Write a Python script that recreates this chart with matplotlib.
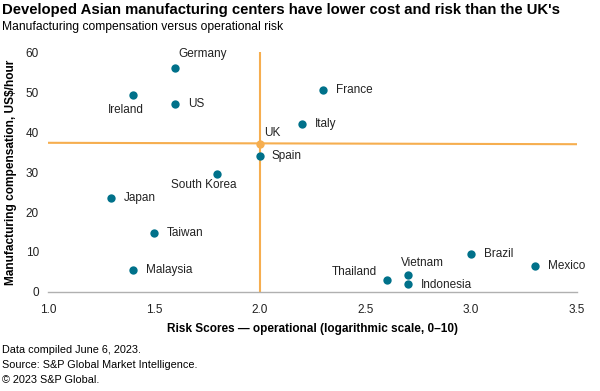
import matplotlib.pyplot as plt

plt.rcParams['font.family'] = ['Liberation Sans', 'DejaVu Sans']

# data
countries = ["Germany", "Ireland", "US", "Spain", "South Korea", "Japan", "Taiwan",
             "Malaysia", "Italy", "France", "Brazil", "Mexico", "Thailand", "Vietnam",
             "Indonesia"]
risk = [1.6, 1.4, 1.6, 2.0, 1.8, 1.3, 1.5, 1.4, 2.2, 2.3, 3.0, 3.3, 2.6, 2.7, 2.7]
comp = [56.0, 49.3, 47.0, 34.0, 29.6, 23.4, 14.7, 5.5, 41.9, 50.4, 9.6, 6.4, 2.9, 4.3, 2.0]

uk_risk = 2.0
uk_comp = 37.0

# reference lines through the UK
hline_x = [1.0, 3.5]
hline_y = [37.3, 36.95]
vline_x = [2.0, 2.0]
vline_y = [0.0, 59.8]

# label offsets in pixels (dx, dy, ha)
label_pos = {
    "Germany": (3, 14, "left"),
    "Ireland": (-7, -15, "center"),
    "US": (13, 0, "left"),
    "Spain": (12, 0, "left"),
    "South Korea": (-14, -11, "center"),
    "Japan": (12, 0, "left"),
    "Taiwan": (13, 0, "left"),
    "Malaysia": (13, 0, "left"),
    "Italy": (13, 0, "left"),
    "France": (13, 0, "left"),
    "Brazil": (13, 0, "left"),
    "Mexico": (13, 0, "left"),
    "Thailand": (-10, 8, "right"),
    "Vietnam": (15, 12, "center"),
    "Indonesia": (13, -1, "left"),
}

teal = "#00718a"
orange = "#f6ae4f"

fig = plt.figure(figsize=(6.0, 3.91), dpi=100)
ax = fig.add_axes([0.08, 0.2532, 0.8817, 0.6138])

ax.plot(hline_x, hline_y, color=orange, lw=1.5, zorder=1)
ax.plot(vline_x, vline_y, color=orange, lw=1.5, zorder=1)
ax.scatter(risk, comp, s=36, color=teal, zorder=3, linewidths=0)
ax.scatter([uk_risk], [uk_comp], s=36, color=orange, zorder=3, linewidths=0)

for name, x, y in zip(countries, risk, comp):
    dx, dy, ha = label_pos[name]
    ax.annotate(name, (x, y), xytext=(dx, dy), textcoords="offset pixels",
                ha=ha, va="center", fontsize=8.5, color="#222222")
ax.annotate("UK", (uk_risk, uk_comp), xytext=(5, 11), textcoords="offset pixels",
            ha="left", va="center", fontsize=8.5, color="#222222")

ax.set_xlim(1.0, 3.5)
ax.set_ylim(0, 60)
ax.set_xticks([1.0, 1.5, 2.0, 2.5, 3.0, 3.5])
ax.set_xticklabels(["1.0", "1.5", "2.0", "2.5", "3.0", "3.5"])
ax.set_yticks([0, 10, 20, 30, 40, 50, 60])
ax.tick_params(length=0, labelsize=8.5, colors="#222222")
ax.tick_params(axis="x", pad=9)
ax.tick_params(axis="y", pad=6.5)
for side in ["top", "right", "left"]:
    ax.spines[side].set_visible(False)
ax.spines["bottom"].set_color("#b0b0b0")
ax.spines["bottom"].set_linewidth(1)

ax.set_xlabel("Risk Scores \u2014 operational (logarithmic scale, 0\u201310)",
              fontsize=8.5, fontweight="bold", labelpad=5)
ax.set_ylabel("Manufacturing compensation, US$/hour", fontsize=8.6,
              fontweight="bold", labelpad=6)

fig.text(0.004, 0.975, "Developed Asian manufacturing centers have lower cost and risk than the UK's",
         fontsize=10.7, fontweight="bold", va="center", ha="left")
fig.text(0.004, 0.93, "Manufacturing compensation versus operational risk",
         fontsize=8.7, va="center", ha="left")

footer = ["Data compiled June 6, 2023.", "Source: S&P Global Market Intelligence.",
          "\u00a9 2023 S&P Global."]
for i, line in enumerate(footer):
    fig.text(0.004, 1 - (350 + 15 * i) / 391, line, fontsize=7.8, va="center", ha="left")

fig.savefig("out.png", dpi=100)
